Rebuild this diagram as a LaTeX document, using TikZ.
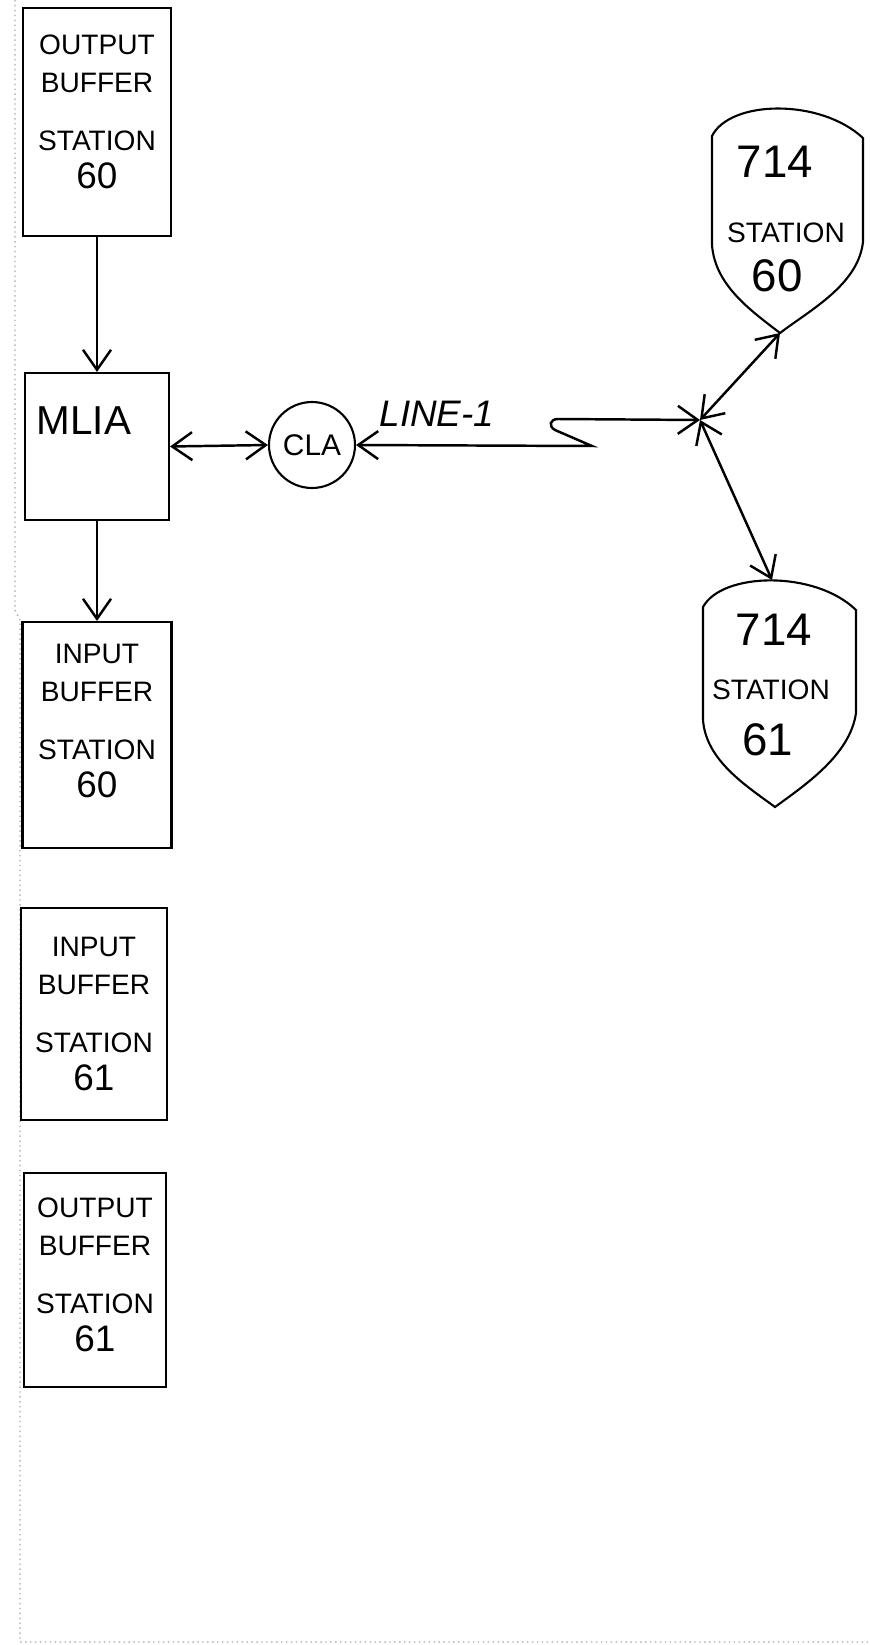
\documentclass[tikz,border=0pt]{standalone}
\usepackage{fontspec}
\setmainfont{Liberation Sans}
\usetikzlibrary{arrows.meta}

\tikzset{
  >={Straight Barb[length=2mm,width=2.8mm]},
  bufbox/.style={draw, line width=0.6pt, inner sep=0},
  buftext/.style={align=center, inner sep=0, font=\fontsize{8}{10.8}\selectfont},
  conn/.style={line width=0.7pt},
  bignum/.style={inner sep=0, font=\fontsize{13}{15}\selectfont},
  stn/.style={inner sep=0, font=\fontsize{8}{10}\selectfont},
  shield/.style={line width=0.6pt},
  edge/.style={black!35, densely dotted, line width=0.4pt}
}

\begin{document}
\begin{tikzpicture}
  \useasboundingbox (0,0) rectangle (8.70,-16.45);

  \draw[edge] (0.15,0) -- (0.15,-6.10) -- (0.20,-6.20) -- (0.20,-16.42) -- (8.70,-16.42);

  \node[bufbox, minimum width=1.48cm, minimum height=2.28cm] (ob60) at (0.97,-1.22) {};
  \node[buftext] (ob60txt) at ([yshift=0.10cm]ob60.center)
    {OUTPUT\\BUFFER\\[5.7pt]STATION\\{\fontsize{10.5}{10.8}\selectfont 60}};

  \node[bufbox, minimum width=1.44cm, minimum height=1.47cm] (mlia) at (0.97,-4.465) {};
  \node[anchor=north west, inner sep=0, font=\fontsize{11.5}{13}\selectfont] (mlialbl)
    at ([xshift=0.12cm,yshift=-0.34cm]mlia.north west) {MLIA};

  \node[bufbox, minimum width=1.49cm, minimum height=2.26cm] (ib60) at (0.97,-7.35) {};
  \node[buftext] (ib60txt) at ([yshift=0.14cm]ib60.center)
    {INPUT\\BUFFER\\[5.7pt]STATION\\{\fontsize{10.5}{10.8}\selectfont 60}};

  \node[bufbox, minimum width=1.46cm, minimum height=2.12cm] (ib61) at (0.94,-10.14) {};
  \node[buftext] (ib61txt) at (ib61.center)
    {INPUT\\BUFFER\\[5.7pt]STATION\\{\fontsize{10.5}{10.8}\selectfont 61}};

  \node[bufbox, minimum width=1.42cm, minimum height=2.14cm] (ob61) at (0.95,-12.80) {};
  \node[buftext] (ob61txt) at ([yshift=0.05cm]ob61.center)
    {OUTPUT\\BUFFER\\[5.7pt]STATION\\{\fontsize{10.5}{10.8}\selectfont 61}};

  \node[draw, circle, line width=0.6pt, minimum size=0.86cm, inner sep=0,
        font=\fontsize{8.5}{10}\selectfont] (cla) at (3.12,-4.45) {CLA};

  \coordinate (hub) at (7.00,-4.20);
  \coordinate (s60tip) at (7.80,-3.33);
  \coordinate (s61top) at (7.72,-5.80);

  \draw[shield] (7.12,-1.36) .. controls (7.30,-1.00) and (8.20,-0.98) .. (8.63,-1.38)
    -- (8.63,-2.42) .. controls (8.58,-2.85) and (8.10,-3.10) .. (s60tip)
    .. controls (7.50,-3.10) and (7.15,-2.85) .. (7.12,-2.45) -- cycle;
  \node[bignum] (s60num) at (7.75,-1.62) {714};
  \node[stn] (s60stn) at (7.86,-2.33) {STATION};
  \node[bignum] (s60id) at (7.77,-2.76) {60};

  \draw[shield] (7.03,-6.07) .. controls (7.22,-5.72) and (8.15,-5.70) .. (8.56,-6.10)
    -- (8.56,-7.13) .. controls (8.50,-7.55) and (8.05,-7.85) .. (7.75,-8.07)
    .. controls (7.45,-7.85) and (7.06,-7.60) .. (7.03,-7.20) -- cycle;
  \node[bignum] (s61num) at (7.74,-6.30) {714};
  \node[stn] (s61stn) at (7.71,-6.90) {STATION};
  \node[bignum] (s61id) at (7.68,-7.40) {61};

  \draw[conn, ->] (ob60.south) -- (mlia.north);
  \draw[conn, ->] (mlia.south) -- (ib60.north);
  \draw[conn, <->] (mlia.east) -- (cla.west);
  \draw[conn, <->] (cla.east) -- (5.92,-4.46) -- (5.55,-4.30)
    .. controls (5.48,-4.26) and (5.50,-4.19) .. (5.58,-4.19) -- (hub);
  \draw[conn, <->] (hub) -- (s60tip);
  \draw[conn, <->] (hub) -- (s61top);

  \node[inner sep=0, font=\itshape\fontsize{10.5}{12}\selectfont] (linelbl) at (4.37,-4.14) {LINE-1};
\end{tikzpicture}
\end{document}
